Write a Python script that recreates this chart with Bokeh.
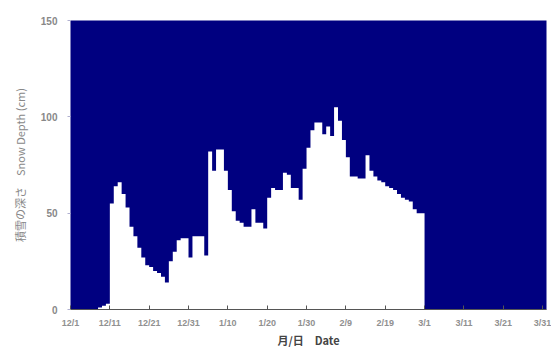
from bokeh.plotting import figure
from bokeh.models import Range1d, FixedTicker
from bokeh.embed import file_html
from bokeh.resources import INLINE

# Daily snow depth (cm), day 0 = 12/1
depth = [0, 0, 0, 0, 0, 0, 0, 1, 2, 3,
         55, 64, 66, 60, 53, 43, 38, 32, 27, 23,
         22, 20, 19, 17, 14, 25, 30, 36, 37, 37,
         27, 38, 38, 38, 28, 82, 72, 83, 83, 72,
         62, 51, 46, 45, 43, 43, 52, 45, 45, 42,
         58, 63, 62, 62, 71, 70, 63, 63, 57, 73,
         84, 93, 97, 97, 91, 95, 90, 105, 98, 88,
         79, 69, 69, 68, 68, 80, 72, 69, 67, 66,
         64, 63, 62, 60, 58, 57, 56, 52, 50, 50]
days = list(range(len(depth)))

tick_days = [0, 10, 20, 30, 40, 50, 60, 70, 80, 90, 100, 110, 120]
tick_labels = ["12/1", "12/11", "12/21", "12/31", "1/10", "1/20", "1/30",
               "2/9", "2/19", "3/1", "3/11", "3/21", "3/31"]
y_ticks = [0, 50, 100, 150]

p = figure(frame_width=476, frame_height=289, output_backend="svg", toolbar_location=None,
           x_range=Range1d(0, 121), y_range=Range1d(0, 150),
           min_border_left=70, min_border_right=5, min_border_top=20, min_border_bottom=0)
p.background_fill_color = "#000080"
p.border_fill_color = "white"
p.outline_line_color = None
p.grid.visible = False

# step area: each day's depth held until the next day
xs = days + [days[-1] + 1]
ys = depth + [depth[-1]]
p.varea_step(x=xs, y1=[0] * len(xs), y2=ys, step_mode="after", fill_color="white")

p.xaxis.ticker = FixedTicker(ticks=tick_days)
p.xaxis.major_label_overrides = {d: l for d, l in zip(tick_days, tick_labels)}
p.xaxis.minor_tick_line_color = None
p.xaxis.major_tick_in = 4
p.xaxis.major_tick_out = 0
p.xaxis.major_tick_line_color = "#555555"
p.xaxis.axis_line_color = "#555555"
p.xaxis.major_label_text_font = "Liberation Sans"
p.xaxis.major_label_text_font_size = "9px"
p.xaxis.major_label_text_font_style = "bold"
p.xaxis.major_label_text_color = "#909090"
p.xaxis.major_label_standoff = 8
p.xaxis.axis_label = "月/日　Date"
p.xaxis.axis_label_text_font = "Noto Sans CJK JP"
p.xaxis.axis_label_text_font_size = "11px"
p.xaxis.axis_label_text_font_style = "bold"
p.xaxis.axis_label_text_color = "#444444"
p.xaxis.axis_label_standoff = 1

p.yaxis.ticker = FixedTicker(ticks=y_ticks)
p.yaxis.minor_tick_line_color = None
p.yaxis.major_tick_in = 0
p.yaxis.major_tick_out = 3
p.yaxis.major_tick_line_color = "#b0b0d0"
p.yaxis.axis_line_color = None
p.yaxis.major_label_text_font = "Liberation Sans"
p.yaxis.major_label_text_font_size = "10px"
p.yaxis.major_label_text_font_style = "bold"
p.yaxis.major_label_text_color = "#888888"
p.yaxis.major_label_standoff = 10
p.yaxis.axis_label = "積雪の深さ　Snow Depth (cm)"
p.yaxis.axis_label_text_font = "Noto Sans CJK JP"
p.yaxis.axis_label_text_font_size = "11px"
p.yaxis.axis_label_text_font_style = "normal"
p.yaxis.axis_label_text_color = "#888888"
p.yaxis.axis_label_standoff = 10

open("out.html", "w").write(file_html(p, INLINE))
